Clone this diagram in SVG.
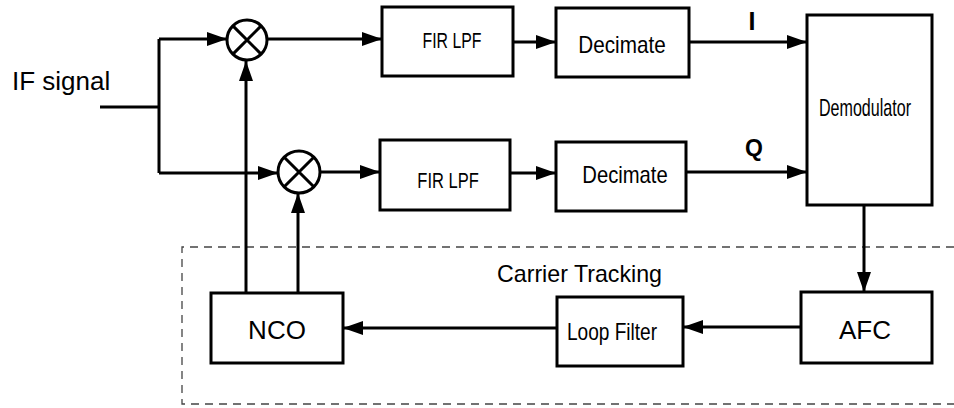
<svg xmlns="http://www.w3.org/2000/svg" width="954" height="408" viewBox="0 0 954 408">
<style>
.box{fill:#fff;stroke:#000;stroke-width:3}
.wire{fill:none;stroke:#000;stroke-width:3}
.arr{fill:none;stroke:#000;stroke-width:3;marker-end:url(#ah)}
.dash{fill:none;stroke:#444;stroke-width:1.3;stroke-dasharray:8 6}
.t{font-family:"Liberation Sans",Arial,sans-serif;fill:#000}
.mix{fill:#fff;stroke:#000;stroke-width:3}
</style>
<defs>
<marker id="ah" markerUnits="userSpaceOnUse" markerWidth="20" markerHeight="14" refX="20" refY="7" orient="auto">
<path d="M0,0 L20,7 L0,14 z" fill="#000"/>
</marker>
</defs>
<rect width="954" height="408" fill="#fff"/>
<g id="carrier-tracking">
<path class="dash" d="M954,247 H182 V404 H954"/>
<text class="t" x="497" y="282" font-size="24" textLength="165" lengthAdjust="spacingAndGlyphs">Carrier Tracking</text>
</g>
<g id="connectors">
<path class="wire" d="M100,107 H159 M159,39 V173"/>
<path class="arr" d="M159,39 H227"/>
<path class="arr" d="M159,173 H278"/>
<path class="arr" d="M268,39 H382"/>
<path class="arr" d="M320,172 H380"/>
<path class="arr" d="M513,42 H556"/>
<path class="arr" d="M510,173 H556"/>
<path class="arr" d="M689,42 H807"/>
<path class="arr" d="M686,172 H807"/>
<path class="arr" d="M864,205 V292"/>
<path class="arr" d="M801,327 H683"/>
<path class="arr" d="M557,328 H343"/>
<path class="arr" d="M246,293 V61"/>
<path class="arr" d="M298,293 V193"/>
</g>
<g id="if-signal"><text class="t" x="12" y="90" font-size="26">IF signal</text></g>
<g id="mixer-i">
<circle class="mix" cx="247" cy="40" r="20"/>
<path class="wire" d="M232.9,25.9 L261.1,54.1 M261.1,25.9 L232.9,54.1"/>
</g>
<g id="mixer-q">
<circle class="mix" cx="299" cy="172" r="21"/>
<path class="wire" d="M284.2,157.2 L313.8,186.8 M313.8,157.2 L284.2,186.8"/>
</g>
<g id="fir-i">
<rect class="box" x="382" y="7" width="131" height="69"/>
<text class="t" font-size="22" text-anchor="middle" transform="translate(452,48) scale(0.72,1)">FIR LPF</text>
</g>
<g id="decimate-i">
<rect class="box" x="556" y="8" width="133" height="69"/>
<text class="t" font-size="23" text-anchor="middle" transform="translate(622,53) scale(0.9,1)">Decimate</text>
</g>
<g id="fir-q">
<rect class="box" x="380" y="140" width="130" height="70"/>
<text class="t" font-size="22" text-anchor="middle" transform="translate(448,188) scale(0.75,1)">FIR LPF</text>
</g>
<g id="decimate-q">
<rect class="box" x="556" y="142" width="130" height="69"/>
<text class="t" font-size="23" text-anchor="middle" transform="translate(625,183) scale(0.88,1)">Decimate</text>
</g>
<g id="label-i"><text class="t" x="752" y="30" font-size="25" font-weight="bold" text-anchor="middle">I</text></g>
<g id="label-q"><text class="t" x="754" y="156" font-size="23" font-weight="bold" text-anchor="middle">Q</text></g>
<g id="demodulator">
<rect class="box" x="807" y="15" width="125" height="190"/>
<text class="t" font-size="24" text-anchor="middle" transform="translate(865,116) scale(0.67,1)">Demodulator</text>
</g>
<g id="afc">
<rect class="box" x="801" y="292" width="131" height="71"/>
<text class="t" x="865" y="339" font-size="26" text-anchor="middle">AFC</text>
</g>
<g id="loop-filter">
<rect class="box" x="557" y="297" width="126" height="69"/>
<text class="t" font-size="23" text-anchor="middle" transform="translate(612,340) scale(0.83,1)">Loop Filter</text>
</g>
<g id="nco">
<rect class="box" x="211" y="293" width="132" height="70"/>
<text class="t" x="277" y="339" font-size="26" text-anchor="middle">NCO</text>
</g>
</svg>
